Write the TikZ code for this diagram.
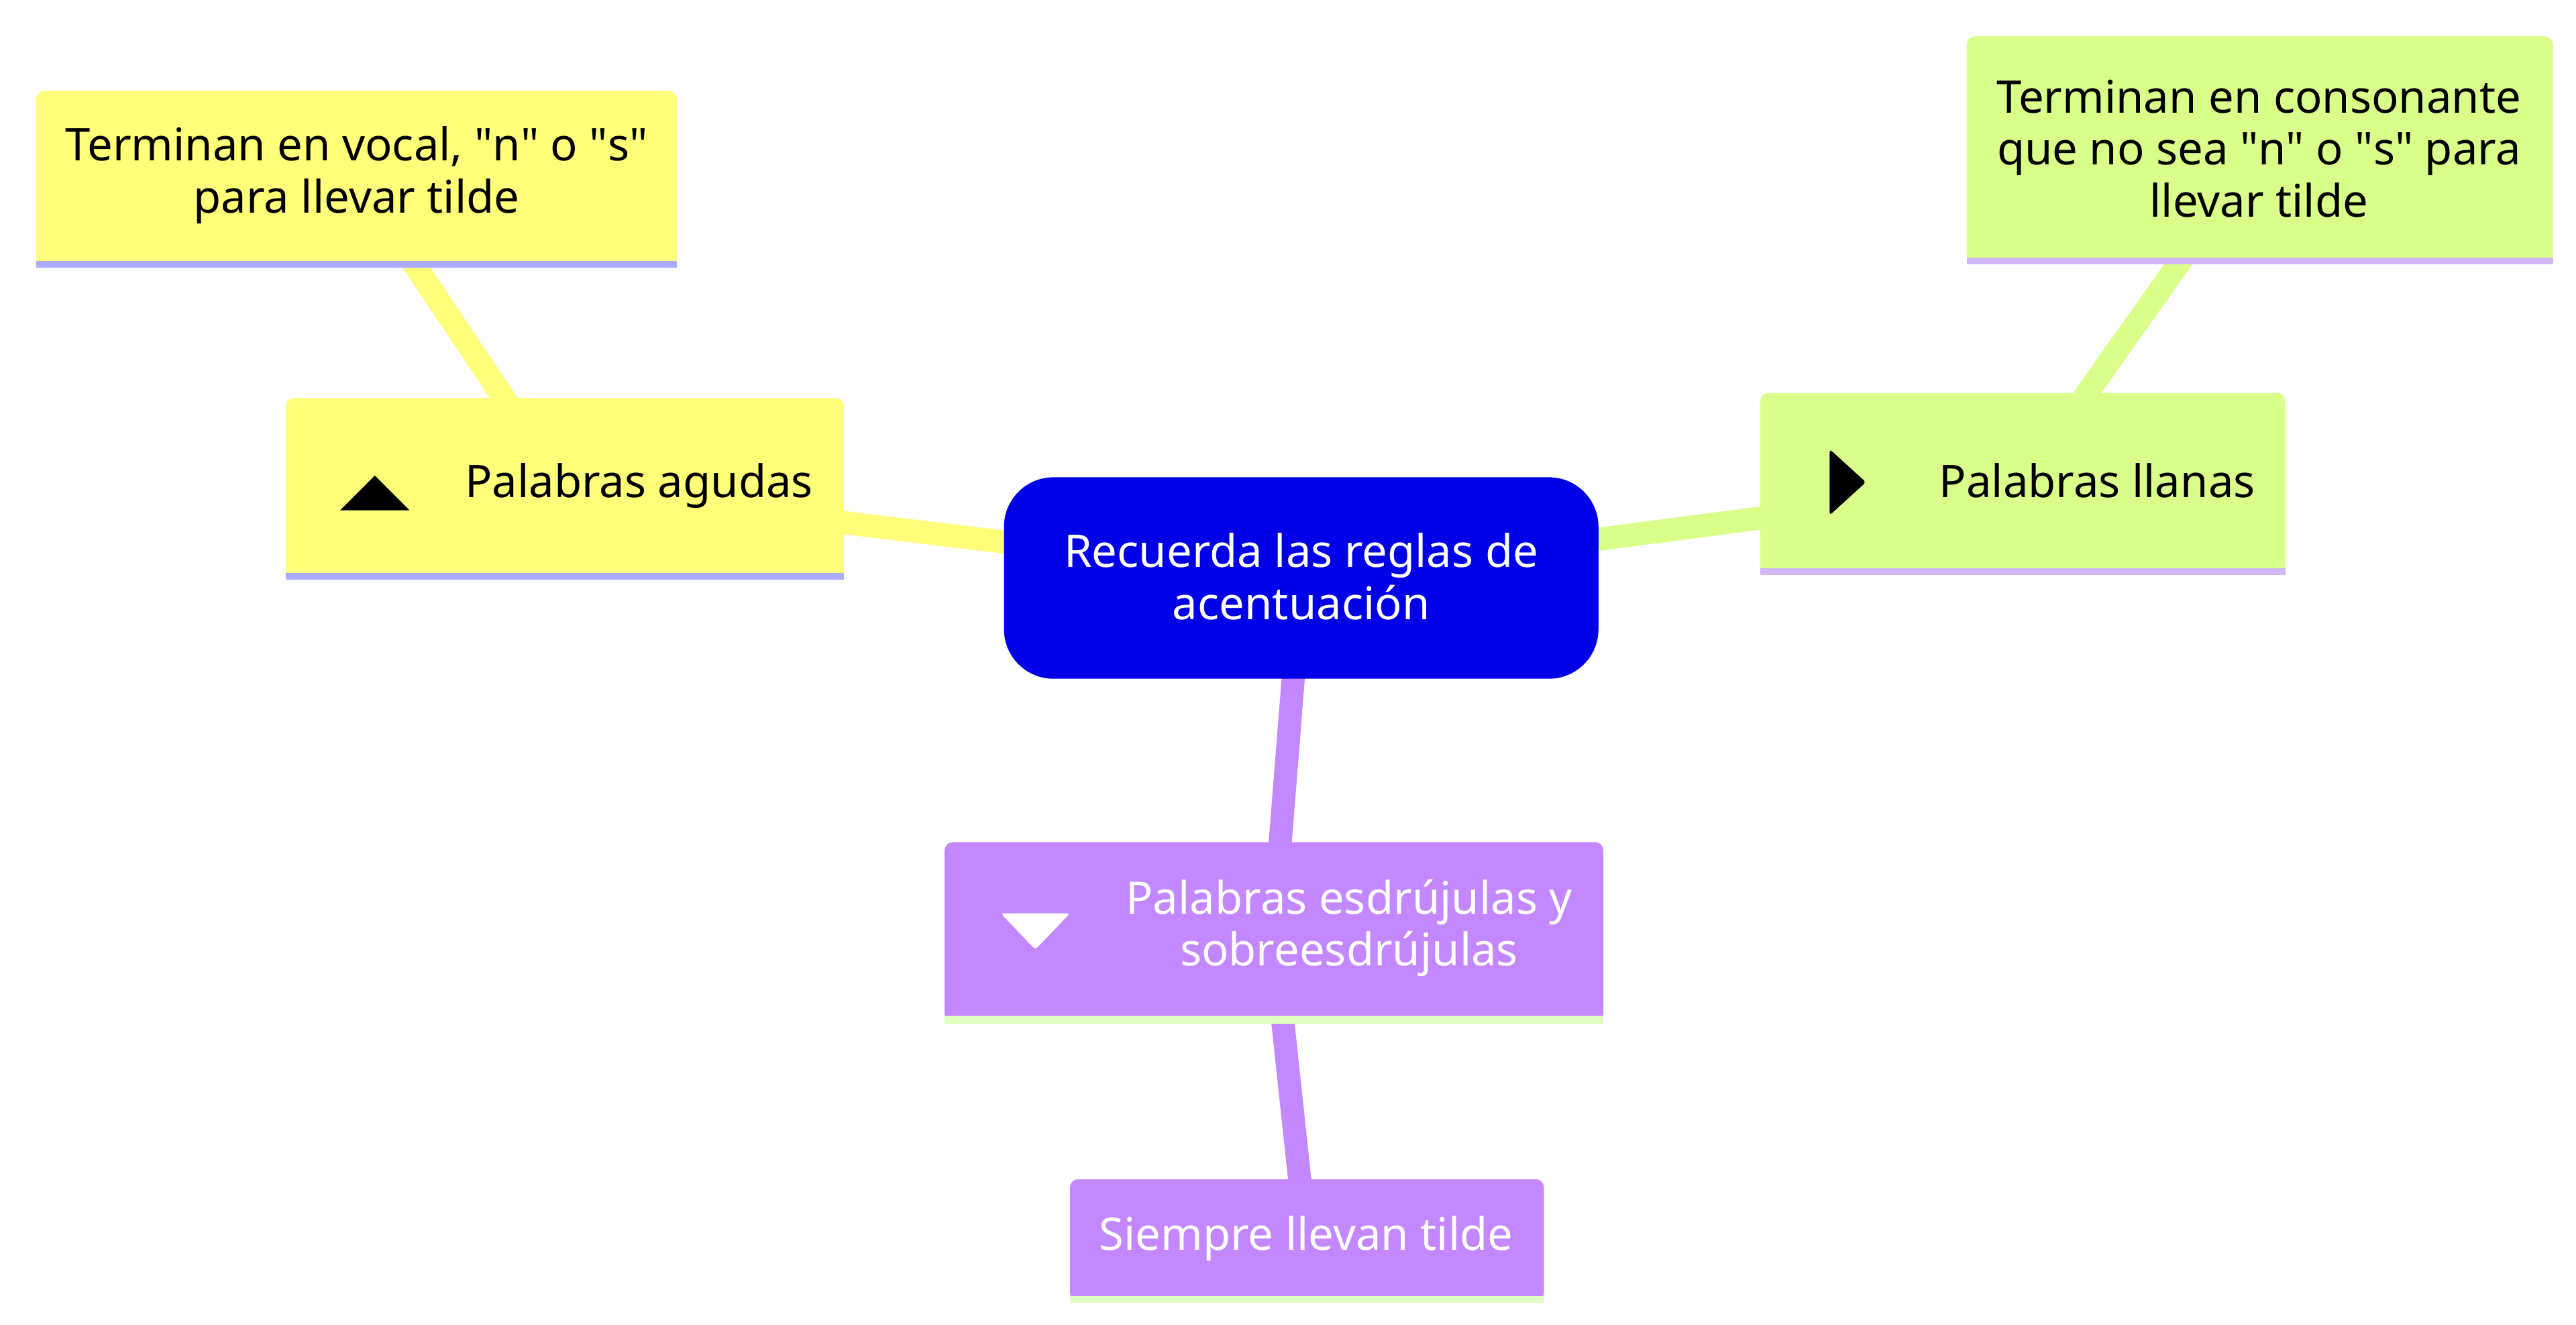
\documentclass[tikz,border=0pt]{standalone}
\usepackage{fontspec}
\setmainfont{Noto Sans}
\newcommand{\dq}{\XeTeXglyph\XeTeXcharglyph"22\relax}
\begin{document}
\begin{tikzpicture}[x=0.02cm,y=-0.02cm,
 box/.style={draw=none,align=center,inner sep=0pt,font=\fontsize{15.5}{18}\selectfont},
 conn/.style={line width=0.28cm}]
\useasboundingbox (0,0) rectangle (1560,802);
\definecolor{cblue}{HTML}{0000E6}
\definecolor{cyel}{HTML}{FFFF7A}
\definecolor{cgrn}{HTML}{D9FF8A}
\definecolor{cpur}{HTML}{C387FF}
\definecolor{slav}{HTML}{AAAAFF}
\definecolor{slav2}{HTML}{CFB8F5}
\definecolor{sgrn}{HTML}{E0FFC0}
% anchors
\coordinate (c) at (788,350);
\coordinate (ag) at (342,296);
\coordinate (agc) at (216,108);
\coordinate (ll) at (1225,293);
\coordinate (llc) at (1368,91);
\coordinate (es) at (771,564);
\coordinate (si) at (791,751);
% connectors
\draw[conn,cyel] (c) -- (ag);
\draw[conn,cyel] (ag) -- (agc);
\draw[conn,cgrn] (c) -- (ll);
\draw[conn,cgrn] (ll) -- (llc);
\draw[conn,cpur] (c) -- (es);
\draw[conn,cpur] (es) -- (si);
% boxes
\fill[cblue,rounded corners=0.6cm] (608,289) rectangle (968,411);
\node[box,text=white] (center) at (788,349) {Recuerda las reglas de\\acentuación};
\fill[cyel,rounded corners=0.1cm] (173,241) rectangle (511,351);
\fill[slav] (173,347) rectangle (511,351);
\node[box] (agudas) at (387,294) {Palabras agudas};
\fill[black] (206,309) -- (227,288) -- (248,309) -- cycle;
\fill[cyel,rounded corners=0.1cm] (22,55) rectangle (410,162);
\fill[slav] (22,158) rectangle (410,162);
\node[box] (agudasc) at (216,106) {Terminan en vocal, \dq n\dq{} o \dq s\dq\\para llevar tilde};
\fill[cgrn,rounded corners=0.1cm] (1066,238) rectangle (1384,348);
\fill[slav2] (1066,344) rectangle (1384,348);
\node[box] (llanas) at (1270,291) {Palabras llanas};
\fill[black,rounded corners=1pt] (1108,272) -- (1130,292) -- (1108,312) -- cycle;
\fill[cgrn,rounded corners=0.1cm] (1191,22) rectangle (1546,160);
\fill[slav2] (1191,156) rectangle (1546,160);
\node[box] (llanasc) at (1368,90) {Terminan en consonante\\que no sea \dq n\dq{} o \dq s\dq{} para\\llevar tilde};
\fill[cpur,rounded corners=0.1cm] (572,510) rectangle (971,619);
\fill[sgrn] (572,615) rectangle (971,620);
\node[box,text=white] (esdr) at (817,562) {Palabras esdrújulas y\\sobreesdrújulas};
\fill[white,rounded corners=1pt] (606,553) -- (648,553) -- (627,575) -- cycle;
\fill[cpur,rounded corners=0.1cm] (648,714) rectangle (935,788);
\fill[sgrn] (648,785) rectangle (935,789);
\node[box,text=white] (siempre) at (791,750) {Siempre llevan tilde};
\end{tikzpicture}
\end{document}
